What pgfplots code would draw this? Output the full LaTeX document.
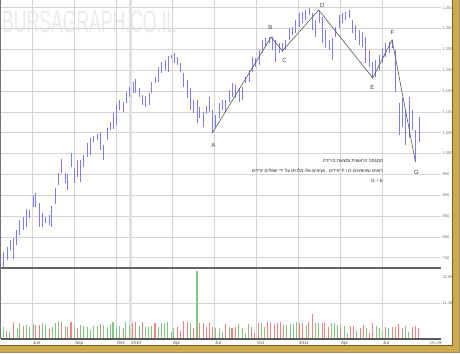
\documentclass[border=0pt]{standalone}
\usepackage{pgfplots}
\usepackage{pgfplotstable}
\pgfplotsset{compat=1.18}
\usepackage{fontspec}
\setmainfont{Liberation Sans}
\newfontfamily\hebfont[Script=Hebrew]{Liberation Sans}
\TeXXeTstate=1
\definecolor{barblue}{RGB}{125,125,250}
\definecolor{volred}{RGB}{240,130,130}
\definecolor{volgreen}{RGB}{130,198,130}
\definecolor{gridgray}{RGB}{212,212,212}
\definecolor{goldframe}{RGB}{205,170,75}
\definecolor{goldedge}{RGB}{120,95,35}

\pgfplotstableread{
m hi lo
2.95 764 721
3.19 776 745
3.43 793 769
3.66 798 747
3.86 817 781
4.09 841 805
4.34 848 817
4.57 867 824
4.81 865 846
5.05 901 872
5.24 906 872
5.48 882 824
5.71 858 824
5.95 848 834
6.19 853 829
6.38 875 824
6.62 918 879
6.86 954 925
7.09 987 954
7.34 954 930
7.52 951 913
7.76 1002 968
8.00 966 930
8.24 985 944
8.43 985 932
8.66 997 968
8.91 1026 992
9.14 1038 997
9.38 1043 1028
9.62 1047 1033
9.86 1052 1009
10.09 1021 985
10.34 1062 1033
10.57 1076 1057
10.79 1098 1059
11.00 1117 1069
11.24 1129 1105
11.48 1124 1100
11.71 1148 1122
11.95 1160 1136
12.19 1172 1146
12.38 1179 1146
12.62 1158 1136
12.86 1141 1117
13.09 1139 1112
13.34 1146 1117
13.52 1172 1146
13.76 1184 1170
14.00 1208 1172
14.24 1220 1194
14.48 1225 1201
14.71 1235 1196
14.91 1237 1230
15.14 1242 1218
15.38 1232 1213
15.57 1218 1196
15.81 1194 1160
16.05 1177 1134
16.29 1158 1105
16.52 1129 1098
16.76 1129 1074
16.95 1112 1086
17.19 1100 1064
17.43 1115 1095
17.62 1136 1100
17.86 1105 1050
18.09 1093 1064
18.34 1122 1086
18.57 1129 1105
18.81 1129 1100
19.05 1153 1124
19.29 1170 1136
19.52 1165 1134
19.76 1158 1124
20.00 1160 1129
20.24 1184 1170
20.48 1201 1172
20.71 1232 1196
20.95 1230 1208
21.19 1249 1213
21.43 1273 1242
21.66 1278 1256
21.91 1280 1266
22.14 1280 1249
22.38 1273 1220
22.62 1266 1242
22.86 1266 1244
23.09 1273 1249
23.34 1302 1273
23.57 1304 1285
23.81 1321 1290
24.05 1338 1304
24.29 1340 1314
24.52 1345 1321
24.76 1350 1333
25.00 1338 1297
25.24 1321 1280
25.48 1345 1314
25.71 1328 1266
25.95 1297 1254
26.19 1273 1249
26.43 1278 1225
26.66 1304 1280
26.91 1333 1302
27.14 1338 1314
27.38 1340 1321
27.62 1345 1326
27.86 1321 1290
28.09 1309 1273
28.34 1297 1261
28.57 1292 1256
28.81 1280 1218
29.05 1249 1208
29.29 1220 1182
29.52 1225 1184
29.76 1237 1201
30.00 1254 1218
30.24 1266 1232
30.48 1268 1242
30.71 1273 1254
30.95 1249 1148
31.19 1122 1045
31.43 1134 1064
31.66 1105 1021
31.91 1136 1038
32.14 1105 1057
32.38 1057 981
32.62 1088 1028
}\pricedata

\pgfplotstableread{
m v
3.14 2.7
3.66 5.6
4.34 4.3
5.24 4.4
5.48 4.4
6.19 3.1
7.09 5.5
7.52 4.0
7.76 5.5
8.24 3.5
9.86 4.9
11.48 3.5
12.14 5.3
12.38 5.5
12.86 5.6
13.76 5.1
15.34 4.0
15.57 2.7
15.81 5.9
16.05 5.6
16.52 3.5
16.95 5.1
17.19 5.1
17.43 4.0
17.62 5.6
17.86 4.0
18.81 4.9
19.26 3.5
19.50 4.0
20.64 4.0
20.88 2.0
21.12 5.1
21.79 5.4
22.02 5.1
22.26 4.9
22.50 5.3
22.69 5.5
22.93 4.4
24.07 5.1
24.31 5.1
24.74 5.6
24.98 8.1
25.69 5.3
25.88 5.5
26.12 4.0
27.02 4.0
27.74 4.2
27.93 4.2
28.41 3.5
28.64 4.5
29.07 1.8
29.31 5.1
30.21 4.0
30.69 4.0
30.93 4.0
31.16 4.9
31.41 3.5
32.12 4.0
32.36 4.2
32.59 3.7
}\volreddata

\pgfplotstableread{
m v
2.95 4.0
3.38 2.4
3.91 3.2
4.09 5.1
4.57 4.5
4.81 3.8
5.05 4.9
5.71 5.1
5.95 4.8
6.43 4.0
6.62 5.1
6.86 5.8
7.34 4.2
8.00 4.2
8.43 4.5
8.66 4.2
8.91 3.8
9.14 2.9
9.38 4.3
9.62 4.2
10.09 4.5
10.34 4.0
10.57 4.9
10.76 5.6
11.00 4.2
11.24 4.2
11.66 5.6
11.91 4.5
12.62 4.2
13.05 4.0
13.29 4.0
13.52 4.2
14.00 4.0
14.19 5.1
14.43 5.1
14.66 5.5
14.91 2.4
15.09 3.7
16.29 5.1
16.76 22.0
18.09 3.5
18.34 3.5
18.57 2.4
19.05 4.0
19.74 4.9
19.98 3.5
20.21 1.8
20.41 4.8
21.36 5.1
21.55 4.0
23.16 4.5
23.41 4.8
23.64 4.9
23.84 5.5
24.55 4.5
25.21 5.1
25.45 5.1
26.36 5.1
26.59 5.1
26.79 4.5
27.26 4.2
27.50 1.8
28.16 2.7
28.88 3.5
29.55 4.2
29.79 3.5
30.02 2.7
30.45 3.7
31.64 4.2
31.88 2.4
}\volgreendata

\pgfplotsset{
  chartbase/.style={
    scale only axis, width=440bp,
    xmin=2.786, xmax=34.214,
    axis line style={draw=none},
    major tick length=0pt,
    xtick={5,8,11,15,18,21,24,27,30},
    grid=major,
    grid style={draw=gridgray, line width=1bp},
    extra x ticks={12},
    extra x tick style={grid style={draw=gridgray!70, line width=2.4bp}},
    /pgf/number format/assume math mode=true,
  }
}

\begin{document}
\begin{tikzpicture}[x=1bp,y=1bp]
\path[use as bounding box] (0,0) rectangle (460,-353);
\fill[white] (0,0) rectangle (460,-353);
\node[anchor=north west, inner sep=0pt, text=black!8, font=\fontsize{31}{31}\selectfont, xscale=0.57] at (2,-11) {BURSAGRAPH.CO.IL};

\begin{axis}[chartbase, name=price, at={(1,0)}, anchor=north west, height=268bp,
  ymin=725.8, ymax=1369,
  ytick={750,800,...,1350},
  yticklabel pos=right,
  xticklabels={}, extra x tick labels={},
  /pgf/number format/1000 sep={,},
  yticklabel style={font=\fontsize{4}{4}\selectfont, text=black!55, anchor=west, inner sep=1bp},
]
\addplot[draw=none, forget plot, error bars/.cd, y dir=plus, y explicit, error mark=none,
  error bar style={draw=barblue, line width=1bp}]
  table[x=m, y=lo, y error expr=\thisrow{hi}-\thisrow{lo}] {\pricedata};
\addplot[draw=black!65, line width=0.6bp] coordinates {
  (17.86,1050) (22.05,1280) (22.86,1247) (25.45,1345) (29.31,1182) (30.69,1273) (32.36,980)};
\begin{scope}[font=\fontsize{6}{6}\selectfont, text=black!75]
\node at (axis cs:17.93,1019) {A};
\node at (axis cs:22.00,1304) {B};
\node at (axis cs:23.00,1223) {C};
\node at (axis cs:25.71,1357) {D};
\node at (axis cs:29.29,1158) {E};
\node at (axis cs:30.71,1292) {F};
\node at (axis cs:32.43,954) {G};
\end{scope}
\end{axis}

\begin{axis}[chartbase, at={(price.south west)}, anchor=north west, height=71bp,
  ymin=0, ymax=22.96,
  ytick={11.48}, yticklabels={11.48},
  extra y ticks={20.05}, extra y tick labels={22.96},
  extra y tick style={grid=none},
  yticklabel pos=right,
  yticklabel style={font=\fontsize{4}{4}\selectfont, text=black!55, anchor=west, inner sep=1bp},
  xticklabels={Jun,Sep,Dec,Apr,Jul,Oct,2011,Apr,Jul},
  extra x tick labels={2010},
  xticklabel style={font=\fontsize{4.5}{5}\selectfont, text=black!70, anchor=north west, inner sep=0.5bp, yshift=-1.8bp},
]
\addplot[ycomb, draw=volred, line width=1.1bp] table[x=m, y=v] {\volreddata};
\addplot[ycomb, draw=volgreen, line width=1.1bp] table[x=m, y=v] {\volgreendata};
\end{axis}

\draw[black!60, line width=1.6bp] (1,-268) -- (441,-268);
\draw[black!65, line width=1.6bp] (1,-339) -- (441,-339);
\draw[black!55, line width=0.8bp] (0.6,0) -- (0.6,-339);
\node[font=\fontsize{4}{4}\selectfont, text=black!55] at (436,-343.5) {(25.09)};

\node[anchor=north east, align=right, inner sep=0pt, text=black!85,
  font=\hebfont\fontsize{4.6}{10}\selectfont] at (383,-159.5)
  {\beginR המגמה הראשית נמצאת בירידה.\endR\\
   \beginR רואים שהשיאים D ו F יורדים , ושיאים אלו מלווים על ידי שפלים יורדים\endR\\
   \beginR E ו G.\endR};

\fill[goldframe] (453,0) rectangle (460,-353);
\fill[goldframe] (0,-346) rectangle (460,-353);
\draw[goldedge, line width=1bp] (452.5,0) -- (452.5,-345.5) -- (0,-345.5);
\draw[goldedge!70, line width=0.8bp] (0,-352.6) -- (459.6,-352.6) -- (459.6,0);
\end{tikzpicture}
\end{document}
